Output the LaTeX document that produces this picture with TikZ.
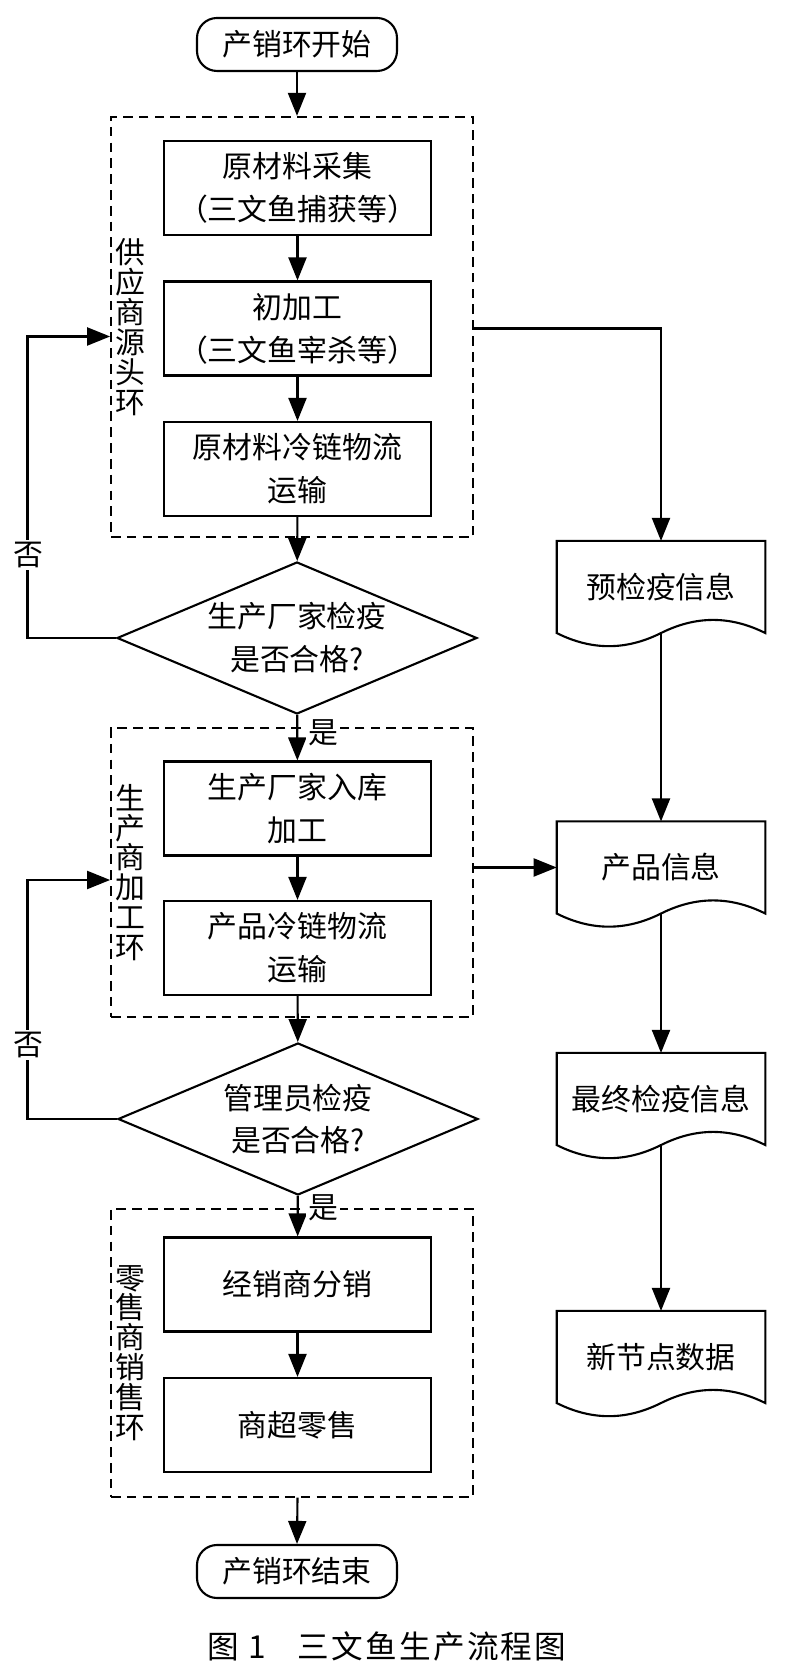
\documentclass[tikz,border=0pt]{standalone}
\usepackage{fontspec}
\setmainfont{Noto Sans CJK SC}
\usetikzlibrary{arrows.meta,shapes.geometric}

% outline of a document node (wavy bottom edge)
\newcommand{\docline}[1]{%
  \draw (#1.north west) -- (#1.north east) -- (#1.south east)
    .. controls ([shift={(-0.7,0.35)}]#1.south east) and ([shift={(0.7,0.35)}]#1.south) .. (#1.south)
    .. controls ([shift={(-0.7,-0.35)}]#1.south) and ([shift={(0.7,-0.35)}]#1.south west) .. (#1.south west)
    -- cycle;}

\begin{document}
\begin{tikzpicture}[line width=1.2pt,font=\fontsize{17}{24.4}\selectfont,
	flow/.style={-{Triangle[width=0.36cm,length=0.46cm]}},
	stepbox/.style={draw,rectangle,minimum width=5.34cm,minimum height=1.88cm,align=center,inner sep=0pt},
	endbox/.style={draw,rectangle,rounded corners=0.4cm,minimum width=4cm,minimum height=1.06cm,inner sep=0pt},
	checkbox/.style={draw,diamond,aspect=2.37,minimum width=7.2cm,minimum height=3.04cm,align=center,inner sep=0pt},
	ringbox/.style={draw,line width=1pt,dash pattern=on 5.5pt off 3.5pt,minimum width=7.24cm,inner sep=0pt},
	ringlabel/.style={align=center,text width=0.6cm,inner sep=0pt,font=\fontsize{17}{17}\selectfont},
	infobox/.style={rectangle,minimum width=4.13cm,minimum height=1.8cm,inner sep=0pt},
	yesno/.style={fill=white,inner sep=1pt}]
		\useasboundingbox (0,0) rectangle (15.84,33.36);
		%\draw[step=1cm,very thin,color=gray] (0,0) grid (15.84,33.36);
		\node[endbox] (start) at (5.94,32.47) {产销环开始};
		\node[ringbox,minimum height=8.41cm] (ring1) at (5.84,26.82) {};
		\node[ringlabel] (lab1) at (2.6,26.82) {供\\应\\商\\源\\头\\环};
		\node[stepbox] (box1) at (5.95,29.60) {原材料采集\\（三文鱼捕获等）};
		\node[stepbox] (box2) at (5.95,26.79) {初加工\\（三文鱼宰杀等）};
		\node[stepbox] (box3) at (5.95,23.98) {原材料冷链物流\\运输};
		\node[checkbox] (dia1) at (5.94,20.60) {生产厂家检疫\\是否合格?};
		\node[ringbox,minimum height=5.77cm] (ring2) at (5.84,15.91) {};
		\node[ringlabel] (lab2) at (2.6,15.91) {生\\产\\商\\加\\工\\环};
		\node[stepbox] (box4) at (5.95,17.19) {生产厂家入库\\加工};
		\node[stepbox] (box5) at (5.95,14.40) {产品冷链物流\\运输};
		\node[checkbox] (dia2) at (5.96,10.98) {管理员检疫\\是否合格?};
		\node[ringbox,minimum height=5.75cm] (ring3) at (5.84,6.30) {};
		\node[ringlabel] (lab3) at (2.6,6.30) {零\\售\\商\\销\\售\\环};
		\node[stepbox] (box6) at (5.95,7.67) {经销商分销};
		\node[stepbox] (box7) at (5.95,4.86) {商超零售};
		\node[endbox] (finish) at (5.94,1.93) {产销环结束};
		\node[infobox] (doc1) at (13.22,21.62) {预检疫信息};
		\node[infobox] (doc2) at (13.22,16.01) {产品信息};
		\node[infobox] (doc3) at (13.22,11.38) {最终检疫信息};
		\node[infobox] (doc4) at (13.22,6.22) {新节点数据};
		\docline{doc1}
		\docline{doc2}
		\docline{doc3}
		\docline{doc4}
		\draw[flow] (start.south) -- (start.south |- ring1.north);
		\draw[flow] (box1) -- (box2);
		\draw[flow] (box2) -- (box3);
		\draw[flow] (box3) -- (dia1);
		\draw[flow] (dia1) -- (box4);
		\draw[flow] (box4) -- (box5);
		\draw[flow] (box5) -- (dia2);
		\draw[flow] (dia2) -- (box6);
		\draw[flow] (box6) -- (box7);
		\draw[flow] (box7.south |- ring3.south) -- (finish.north);
		\coordinate (back1) at (0.55,26.63);
		\coordinate (back2) at (0.55,15.76);
		\draw[flow] (dia1.west) -| (back1) -- (ring1.west |- back1);
		\draw[flow] (dia2.west) -| (back2) -- (ring2.west |- back2);
		\node[yesno] (no1) at (0.56,22.26) {否};
		\node[yesno] (no2) at (0.56,12.46) {否};
		\node[yesno] (yes1) at (6.46,18.70) {是};
		\node[yesno] (yes2) at (6.46,9.20) {是};
		\draw[flow] (ring1.east |- box2) -| (doc1.north);
		\draw[flow] (doc1.south) -- (doc2.north);
		\draw[flow] (ring2.east |- doc2.west) -- (doc2.west);
		\draw[flow] (doc2.south) -- (doc3.north);
		\draw[flow] (doc3.south) -- (doc4.north);
		\node (caption) at (7.74,0.43) {\fontsize{18}{20}\selectfont\addfontfeatures{LetterSpace=7}图 1\quad 三文鱼生产流程图};
\end{tikzpicture}
\end{document}
